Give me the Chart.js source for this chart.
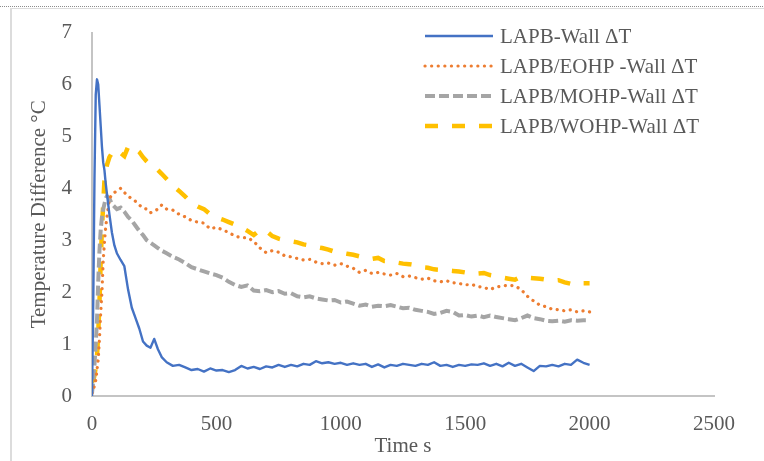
<!DOCTYPE html>
<html>
<head>
<meta charset="utf-8">
<title>Temperature Difference</title>
<script src="https://cdn.jsdelivr.net/npm/chart.js@4.4.1/dist/chart.umd.min.js"></script>
<style>
  html, body { margin: 0; padding: 0; background: #fff; }
  #wrap { width: 764px; height: 461px; }
</style>
</head>
<body>
<div id="wrap"><canvas id="chart" width="764" height="461"></canvas></div>
<script>
// time (s) shared by all four runs
var times = [
    0, 5, 10, 15, 20, 25, 30, 35, 40, 45, 50, 55, 60,
    70, 80, 90, 100,
    115, 130, 145, 160, 175, 190, 205, 220, 235, 250, 265, 280,
    300, 325, 350, 375, 400,
    425, 450, 475, 500, 525, 550, 575, 600, 625, 650, 675, 700,
    725, 750, 775, 800, 825, 850, 875, 900, 925, 950, 975, 1000,
    1025, 1050, 1075, 1100, 1125, 1150, 1175, 1200, 1225, 1250, 1275, 1300,
    1325, 1350, 1375, 1400, 1425, 1450, 1475, 1500, 1525, 1550, 1575, 1600,
    1625, 1650, 1675, 1700, 1725, 1750, 1775, 1800, 1825, 1850, 1875, 1900,
    1925, 1950, 1975, 2000
];

var lapbWall = [
    0.0, 1.8, 4.2, 5.8, 6.1, 6.0, 5.6, 5.2, 4.8, 4.5, 4.35, 4.1, 3.9,
    3.5, 3.15, 2.9, 2.75,
    2.62, 2.5, 2.05, 1.7, 1.5, 1.3, 1.05, 0.97, 0.93, 1.1, 0.9, 0.75,
    0.65, 0.58, 0.6, 0.55, 0.5,
    0.52, 0.47, 0.53, 0.49, 0.5, 0.46, 0.5, 0.58, 0.53, 0.56, 0.52, 0.57,
    0.55, 0.6, 0.56, 0.6, 0.57, 0.62, 0.6, 0.67, 0.63, 0.65, 0.62, 0.64,
    0.6, 0.63, 0.6, 0.62, 0.56, 0.61, 0.55, 0.6, 0.58, 0.62, 0.6, 0.58,
    0.62, 0.6, 0.65, 0.58, 0.6, 0.56, 0.6, 0.58, 0.61, 0.6, 0.63, 0.58,
    0.62, 0.57, 0.64, 0.58, 0.62, 0.55, 0.48, 0.58, 0.57, 0.6, 0.57, 0.62,
    0.6, 0.7, 0.64, 0.6
];

var eohpWall = [
    0.05, 0.12, 0.2, 0.3, 0.5, 0.7, 1.1, 1.6, 2.0, 2.6, 2.95, 3.25, 3.45,
    3.8, 3.88, 3.92, 3.95,
    4.0, 3.92, 3.85, 3.8, 3.75, 3.68, 3.62, 3.6, 3.53, 3.56, 3.6, 3.68,
    3.6, 3.58, 3.5, 3.45, 3.38,
    3.35, 3.33, 3.22, 3.25, 3.2, 3.15, 3.08, 3.05, 3.05, 2.98, 2.85, 2.76,
    2.8, 2.77, 2.7, 2.68, 2.65, 2.62, 2.63, 2.58, 2.55, 2.56, 2.52, 2.55,
    2.5, 2.46, 2.38, 2.42, 2.36, 2.38, 2.35, 2.33, 2.36, 2.3, 2.31, 2.28,
    2.25, 2.27, 2.22, 2.2, 2.22, 2.18, 2.17, 2.14, 2.15, 2.11, 2.09, 2.05,
    2.1, 2.12, 2.13, 2.12, 2.05, 1.92, 1.83, 1.75, 1.72, 1.67, 1.66, 1.64,
    1.66, 1.62, 1.64, 1.62
];

var mohpWall = [
    0.05, 0.3, 0.6, 1.0, 1.45, 2.2, 2.8, 3.2, 3.45, 3.6, 3.7, 3.8, 3.85,
    3.8, 3.7, 3.65, 3.6,
    3.63, 3.55, 3.45, 3.38, 3.28, 3.18, 3.1, 3.0, 2.95, 2.9, 2.85, 2.8,
    2.75, 2.68, 2.63, 2.56, 2.48,
    2.44, 2.4, 2.36, 2.33, 2.28, 2.2, 2.14, 2.1, 2.13, 2.03, 2.02, 2.04,
    2.0, 2.02, 1.97, 1.98, 1.92, 1.9, 1.92, 1.88, 1.86, 1.84, 1.85, 1.8,
    1.82, 1.78, 1.74, 1.76, 1.72, 1.74, 1.73, 1.75, 1.72, 1.69, 1.7, 1.66,
    1.64, 1.62, 1.58, 1.6, 1.64, 1.62, 1.55, 1.56, 1.53, 1.55, 1.52, 1.55,
    1.52, 1.5, 1.48, 1.46, 1.5, 1.55, 1.5, 1.48, 1.45, 1.44, 1.45, 1.43,
    1.46, 1.45, 1.46, 1.46
];

var wohpWall = [
    0.28, 0.3, 0.4, 0.55, 0.75, 1.2, 1.8, 2.6, 3.2, 3.7, 4.15, 4.3, 4.45,
    4.6, 4.68, 4.72, 4.75,
    4.68, 4.62, 4.8, 4.82, 4.76, 4.7, 4.6, 4.52, 4.45, 4.4, 4.35, 4.28,
    4.18, 4.05, 3.95, 3.84, 3.72,
    3.65, 3.6, 3.5, 3.44, 3.4, 3.35, 3.3, 3.25, 3.18, 3.1, 3.2, 3.18,
    3.08, 3.03, 3.0, 2.98, 2.96, 2.92, 2.9, 2.87, 2.85, 2.82, 2.78, 2.76,
    2.74, 2.72, 2.69, 2.66, 2.64, 2.66, 2.6, 2.6, 2.57, 2.55, 2.54, 2.52,
    2.48, 2.47, 2.44, 2.43, 2.42, 2.41, 2.4, 2.38, 2.39, 2.36, 2.37, 2.33,
    2.31, 2.28, 2.26, 2.24, 2.3, 2.28, 2.27, 2.26, 2.24, 2.22, 2.23, 2.19,
    2.16, 2.13, 2.17, 2.17
];

var seriesNames = ['LAPB-Wall ΔT', 'LAPB/EOHP -Wall ΔT', 'LAPB/MOHP-Wall ΔT', 'LAPB/WOHP-Wall ΔT'];
var xTicks = [0, 500, 1000, 1500, 2000, 2500];
var yTicks = [0, 1, 2, 3, 4, 5, 6, 7];

var FONT = '"Liberation Serif", "Times New Roman", serif';
var TEXT = '#595959';

function pairs(vals) {
    return vals.map(function (v, i) {
        return { x: times[i], y: v };
    });
}

// plain numbers on the axes, no thousands separator
function plainLabel(value) {
    return String(value);
}

// thin crop frame around the figure
var framePlugin = {
    id: 'frame',
    beforeDraw: function (chart) {
        var ctx = chart.ctx;
        ctx.save();
        ctx.fillStyle = '#fff';
        ctx.fillRect(0, 0, chart.width, chart.height);
        ctx.strokeStyle = '#8c8c8c';
        ctx.lineWidth = 1;
        ctx.setLineDash([1, 1]);
        ctx.beginPath();
        ctx.moveTo(0, 6.5);
        ctx.lineTo(chart.width, 6.5);
        ctx.stroke();
        ctx.setLineDash([]);
        ctx.strokeStyle = '#dcdcdc';
        ctx.beginPath();
        ctx.moveTo(11, 8.5);
        ctx.lineTo(chart.width, 8.5);
        ctx.stroke();
        ctx.lineWidth = 2;
        ctx.beginPath();
        ctx.moveTo(11, 8);
        ctx.lineTo(11, chart.height);
        ctx.stroke();
        ctx.restore();
    }
};

// legend drawn inside the plot, top right
var insideLegend = {
    id: 'insideLegend',
    afterDraw: function (chart) {
        var ctx = chart.ctx;
        var x0 = 425, x1 = 493, tx = 500;
        var rows = [36, 66, 96, 126];
        ctx.save();
        chart.data.datasets.forEach(function (ds, i) {
            var y = rows[i];
            ctx.strokeStyle = ds.borderColor;
            ctx.lineWidth = ds.borderWidth;
            ctx.lineCap = ds.borderCapStyle || 'butt';
            ctx.setLineDash(ds.borderDash || []);
            ctx.beginPath();
            ctx.moveTo(x0, y);
            ctx.lineTo(x1, y);
            ctx.stroke();
            ctx.setLineDash([]);
            ctx.fillStyle = TEXT;
            ctx.font = '21px ' + FONT;
            ctx.textAlign = 'left';
            ctx.textBaseline = 'middle';
            ctx.fillText(ds.label, tx, y + 1);
        });
        ctx.restore();
    }
};

var config = {
    type: 'line',
    data: {
        datasets: [
            {
                label: seriesNames[0],
                data: pairs(lapbWall),
                borderColor: '#4472C4',
                borderWidth: 2.4,
                borderJoinStyle: 'round'
            },
            {
                label: seriesNames[1],
                data: pairs(eohpWall),
                borderColor: '#ED7D31',
                borderWidth: 3.2,
                borderDash: [0.1, 6.5],
                borderCapStyle: 'round'
            },
            {
                label: seriesNames[2],
                data: pairs(mohpWall),
                borderColor: '#A5A5A5',
                borderWidth: 4,
                borderDash: [10, 4]
            },
            {
                label: seriesNames[3],
                data: pairs(wohpWall),
                borderColor: '#FFC000',
                borderWidth: 4.5,
                borderDash: [13, 14]
            }
        ]
    },
    options: {
        responsive: false,
        animation: false,
        events: [],
        elements: {
            point: { radius: 0 },
            line: { tension: 0, fill: false }
        },
        layout: {
            padding: { left: 0, top: 32, right: 50, bottom: 0 }
        },
        plugins: {
            legend: { display: false },
            tooltip: { enabled: false }
        },
        scales: {
            x: {
                type: 'linear',
                min: 0,
                max: 2500,
                afterFit: function (scale) { scale.height = 65; },
                afterBuildTicks: function (scale) {
                    scale.ticks = xTicks.map(function (v) { return { value: v }; });
                },
                grid: { display: false, drawTicks: false },
                border: { display: true, color: '#c4c4c4', width: 2 },
                ticks: {
                    padding: 16,
                    maxRotation: 0,
                    autoSkip: false,
                    color: TEXT,
                    font: { family: FONT, size: 21 },
                    callback: plainLabel
                },
                title: {
                    display: true,
                    text: 'Time s',
                    color: TEXT,
                    font: { family: FONT, size: 21 },
                    padding: { top: 0, bottom: 2 }
                }
            },
            y: {
                min: 0,
                max: 7,
                afterFit: function (scale) { scale.width = 92; },
                afterBuildTicks: function (scale) {
                    scale.ticks = yTicks.map(function (v) { return { value: v }; });
                },
                grid: { display: false, drawTicks: false },
                border: { display: true, color: '#c4c4c4', width: 2 },
                ticks: {
                    padding: 20,
                    autoSkip: false,
                    color: TEXT,
                    font: { family: FONT, size: 21 },
                    callback: plainLabel
                },
                title: {
                    display: true,
                    text: 'Temperature Difference °C',
                    color: TEXT,
                    font: { family: FONT, size: 21 },
                    padding: { top: 27, bottom: 0 }
                }
            }
        }
    },
    plugins: [framePlugin, insideLegend]
};

var ctx = document.getElementById('chart').getContext('2d');
window.tempChart = new Chart(ctx, config);
</script>
</body>
</html>
